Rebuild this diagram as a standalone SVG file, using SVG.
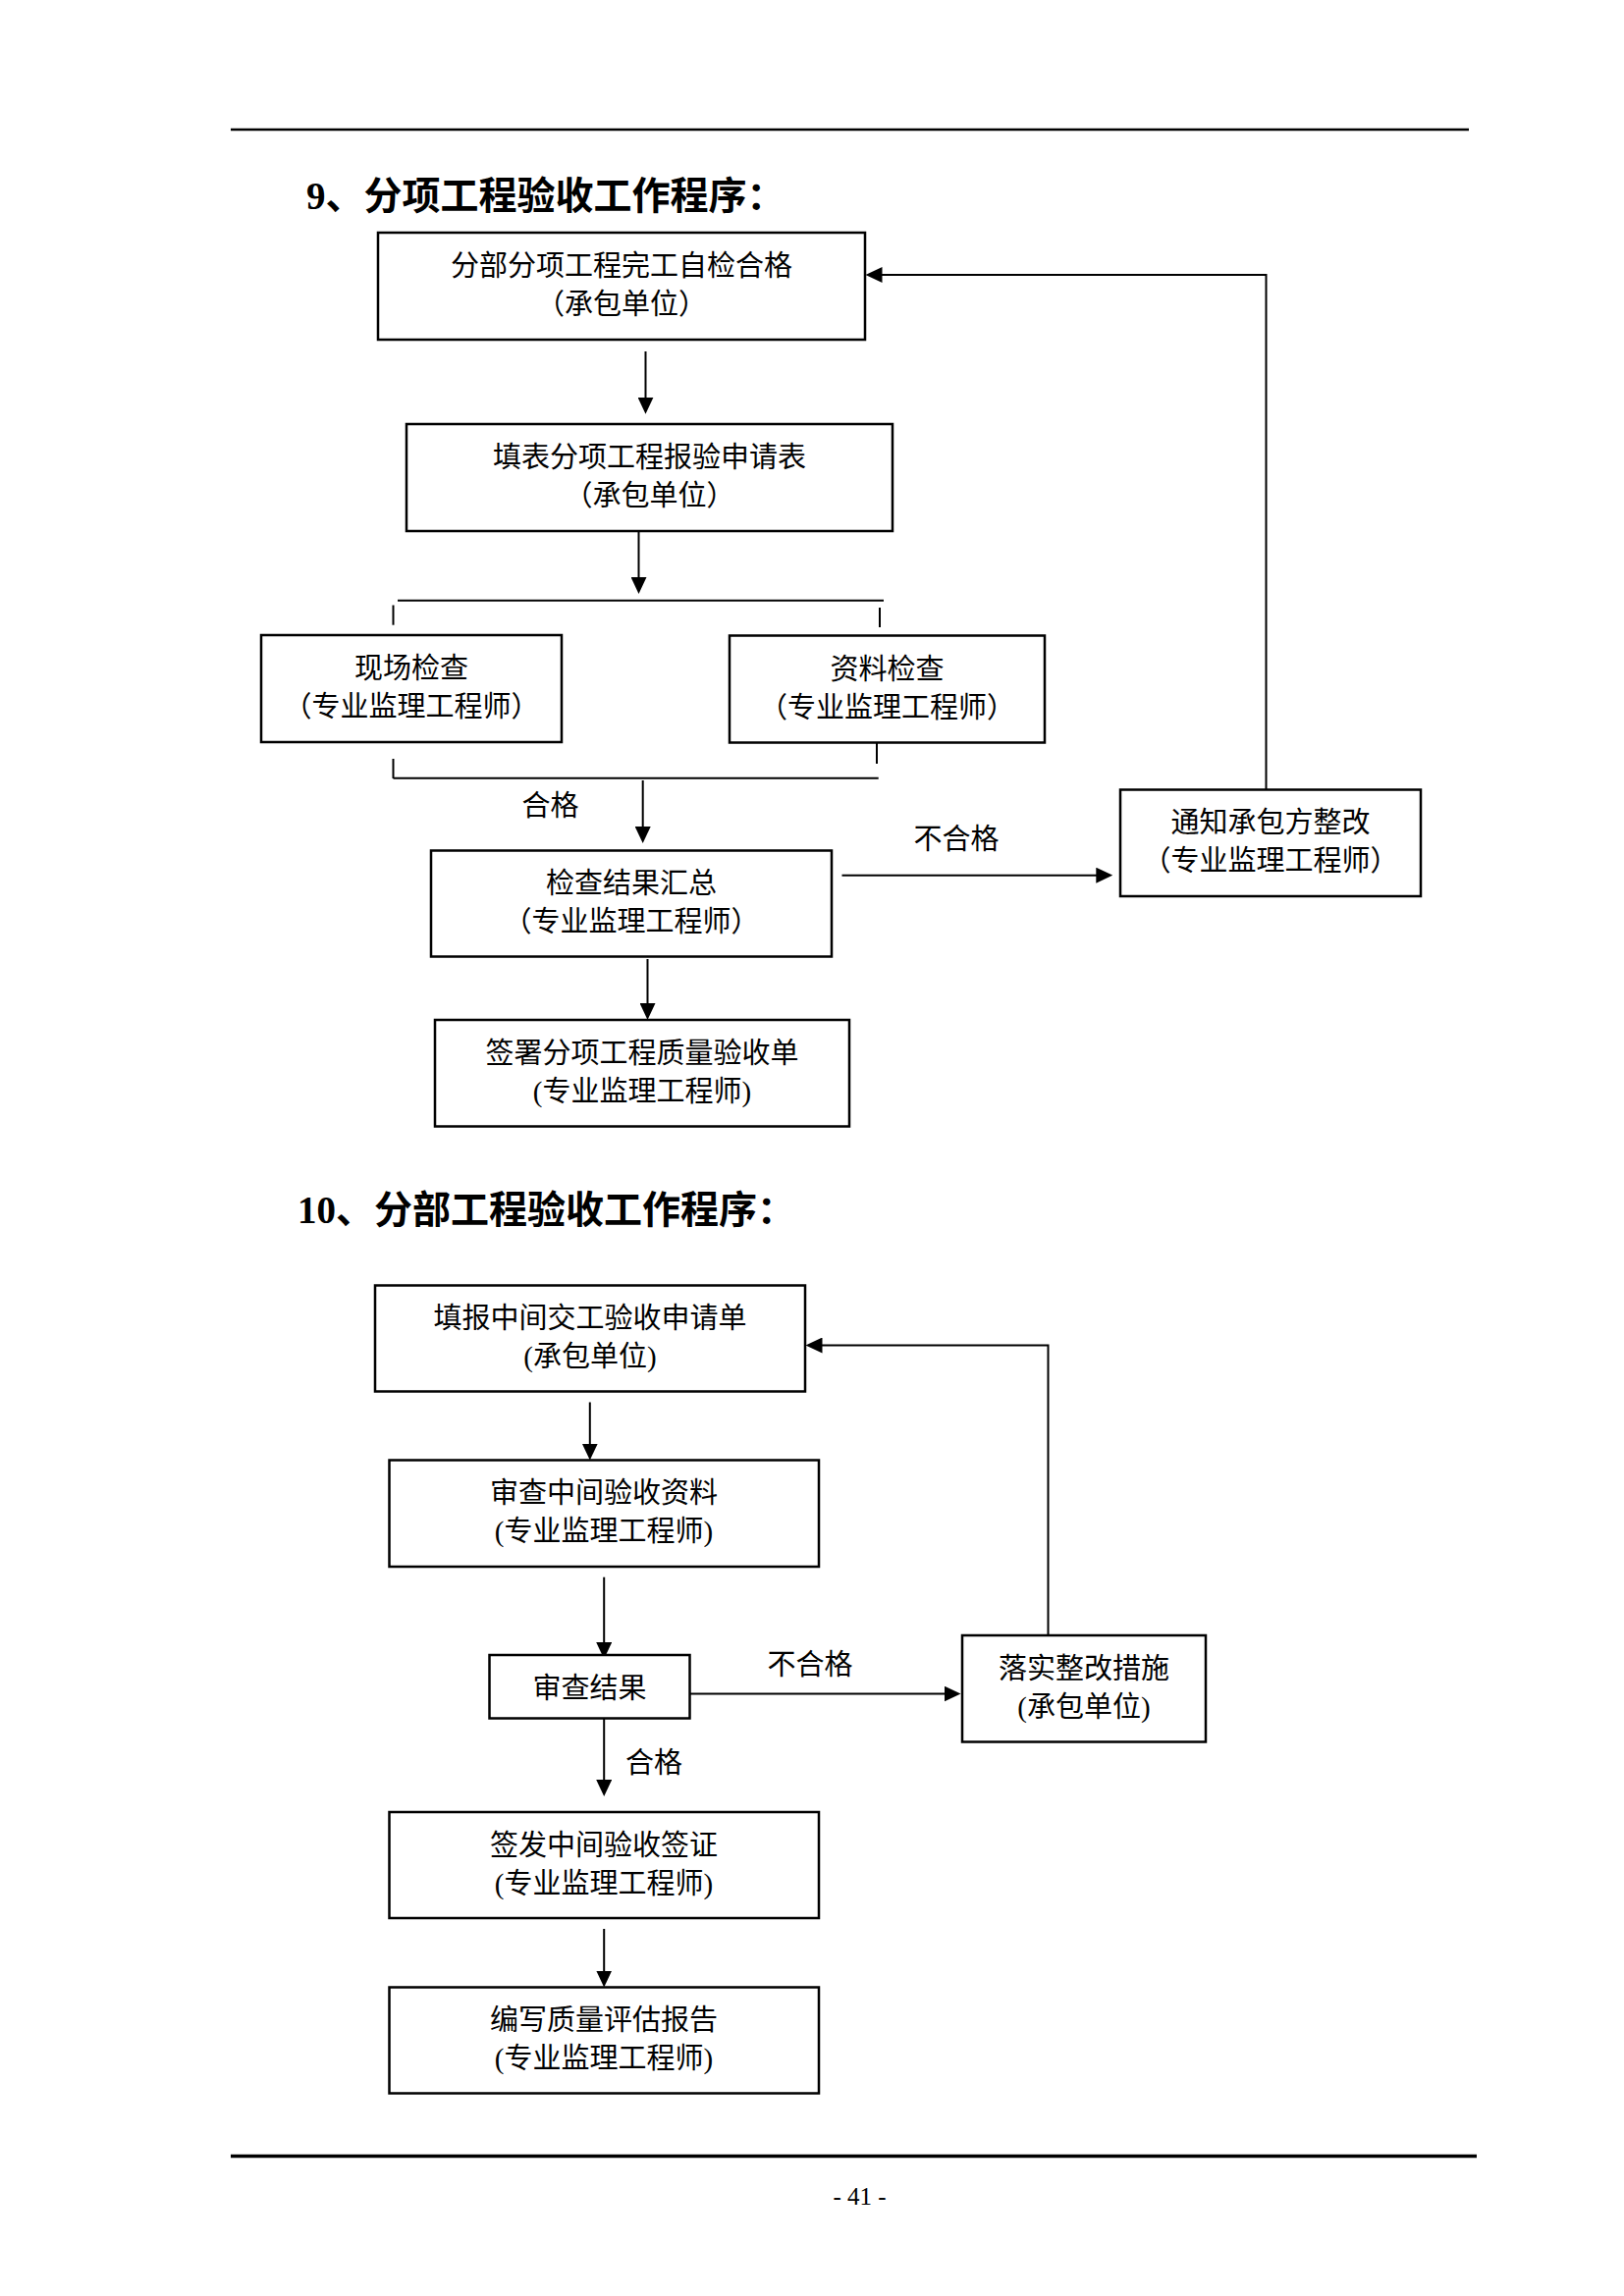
<svg xmlns="http://www.w3.org/2000/svg" width="1654" height="2339" viewBox="0 0 1654 2339">
<style>
  .box { fill: #fff; stroke: #000; stroke-width: 2.5; }
  .t { font-family: "Liberation Serif", "Noto Sans CJK SC", serif; font-size: 29px; fill: #000; text-anchor: middle; }
  .title { font-family: "Liberation Serif", "Noto Sans CJK SC", serif; font-size: 39px; font-weight: bold; fill: #000; }
  .c { fill: none; stroke: #000; stroke-width: 2; }
  .ca { fill: none; stroke: #000; stroke-width: 2; marker-end: url(#ah); }
  .rule { stroke: #000; }
  .pn { font-family: "Liberation Serif", serif; font-size: 25px; fill: #000; text-anchor: middle; }
</style>
<defs>
  <marker id="ah" markerUnits="userSpaceOnUse" markerWidth="17" markerHeight="16" refX="9" refY="8" orient="auto" viewBox="0 0 17 16">
    <path d="M0,0 L17,8 L0,16 z" fill="#000"/>
  </marker>
</defs>
<rect width="1654" height="2339" fill="#fff"/>
<line class="rule" x1="235" y1="132" x2="1496" y2="132" stroke-width="2.5"/>
<line class="rule" x1="235" y1="2196.5" x2="1504" y2="2196.5" stroke-width="3.3"/>
<text class="title" x="312" y="213">9、分项工程验收工作程序：</text>
<text class="title" x="303" y="1246">10、分部工程验收工作程序：</text>
<text class="pn" x="875.5" y="2246">- 41 -</text>

<g id="connectors">
  <line class="ca" x1="657.5" y1="358" x2="657.5" y2="413.7"/>
  <line class="ca" x1="650.5" y1="541" x2="650.5" y2="597"/>
  <line class="c" x1="405" y1="611.7" x2="900" y2="611.7"/>
  <line class="c" x1="400.5" y1="616.5" x2="400.5" y2="636.7"/>
  <line class="c" x1="896" y1="619" x2="896" y2="639"/>
  <line class="c" x1="893" y1="757" x2="893" y2="778"/>
  <line class="c" x1="400.5" y1="773" x2="400.5" y2="793"/>
  <line class="c" x1="400.5" y1="792.7" x2="894.7" y2="792.7"/>
  <line class="ca" x1="654.7" y1="795" x2="654.7" y2="851"/>
  <line class="ca" x1="659.5" y1="977" x2="659.5" y2="1031"/>
  <line class="ca" x1="857.5" y1="891.7" x2="1125.3" y2="891.7"/>
  <polyline class="ca" points="1289.5,804.5 1289.5,280 889.5,280"/>
  <text class="t" x="560.5" y="830.5">合格</text>
  <text class="t" x="974" y="865">不合格</text>

  <line class="ca" x1="600.8" y1="1428.5" x2="600.8" y2="1479.6"/>
  <line class="ca" x1="615.2" y1="1606.7" x2="615.2" y2="1682"/>
  <line class="ca" x1="703" y1="1725.5" x2="970.5" y2="1725.5"/>
  <polyline class="ca" points="1067.5,1666 1067.5,1370.5 828.5,1370.5"/>
  <line class="ca" x1="615.2" y1="1746" x2="615.2" y2="1822"/>
  <line class="ca" x1="615.2" y1="1965" x2="615.2" y2="2016.5"/>
  <text class="t" x="825" y="1706">不合格</text>
  <text class="t" x="666" y="1806">合格</text>
</g>

<g id="nA"><rect class="box" x="385" y="237" width="496" height="109"/>
  <text class="t" x="633" y="281">分部分项工程完工自检合格</text><text class="t" x="633" y="320">（承包单位）</text></g>
<g id="nB"><rect class="box" x="414" y="432" width="495" height="109"/>
  <text class="t" x="661.5" y="476">填表分项工程报验申请表</text><text class="t" x="661.5" y="515">（承包单位）</text></g>
<g id="nC"><rect class="box" x="266" y="647" width="306" height="109"/>
  <text class="t" x="419" y="691">现场检查</text><text class="t" x="419" y="730">（专业监理工程师）</text></g>
<g id="nD"><rect class="box" x="743" y="647.5" width="321" height="109"/>
  <text class="t" x="903.5" y="691.5">资料检查</text><text class="t" x="903.5" y="730.5">（专业监理工程师）</text></g>
<g id="nE"><rect class="box" x="439" y="866.5" width="408" height="108"/>
  <text class="t" x="643" y="910">检查结果汇总</text><text class="t" x="643" y="949">（专业监理工程师）</text></g>
<g id="nF"><rect class="box" x="1141" y="804.5" width="306" height="108.5"/>
  <text class="t" x="1294" y="848">通知承包方整改</text><text class="t" x="1294" y="887">（专业监理工程师）</text></g>
<g id="nG"><rect class="box" x="443" y="1039" width="422" height="108.5"/>
  <text class="t" x="654" y="1082.5">签署分项工程质量验收单</text><text class="t" x="654" y="1121.5">(专业监理工程师)</text></g>

<g id="nH"><rect class="box" x="382" y="1309.5" width="438" height="108"/>
  <text class="t" x="601" y="1353">填报中间交工验收申请单</text><text class="t" x="601" y="1392">(承包单位)</text></g>
<g id="nI"><rect class="box" x="396.5" y="1487.5" width="437.5" height="108.5"/>
  <text class="t" x="615" y="1531">审查中间验收资料</text><text class="t" x="615" y="1570">(专业监理工程师)</text></g>
<g id="nJ"><rect class="box" x="498.5" y="1686" width="204" height="64.5"/>
  <text class="t" x="600.5" y="1729.5">审查结果</text></g>
<g id="nK"><rect class="box" x="980" y="1666" width="248" height="108.5"/>
  <text class="t" x="1104" y="1709.5">落实整改措施</text><text class="t" x="1104" y="1748.5">(承包单位)</text></g>
<g id="nL"><rect class="box" x="396.5" y="1846" width="437.5" height="108"/>
  <text class="t" x="615" y="1889.5">签发中间验收签证</text><text class="t" x="615" y="1928.5">(专业监理工程师)</text></g>
<g id="nM"><rect class="box" x="396.5" y="2024.5" width="437.5" height="108"/>
  <text class="t" x="615" y="2068">编写质量评估报告</text><text class="t" x="615" y="2107">(专业监理工程师)</text></g>
</svg>
